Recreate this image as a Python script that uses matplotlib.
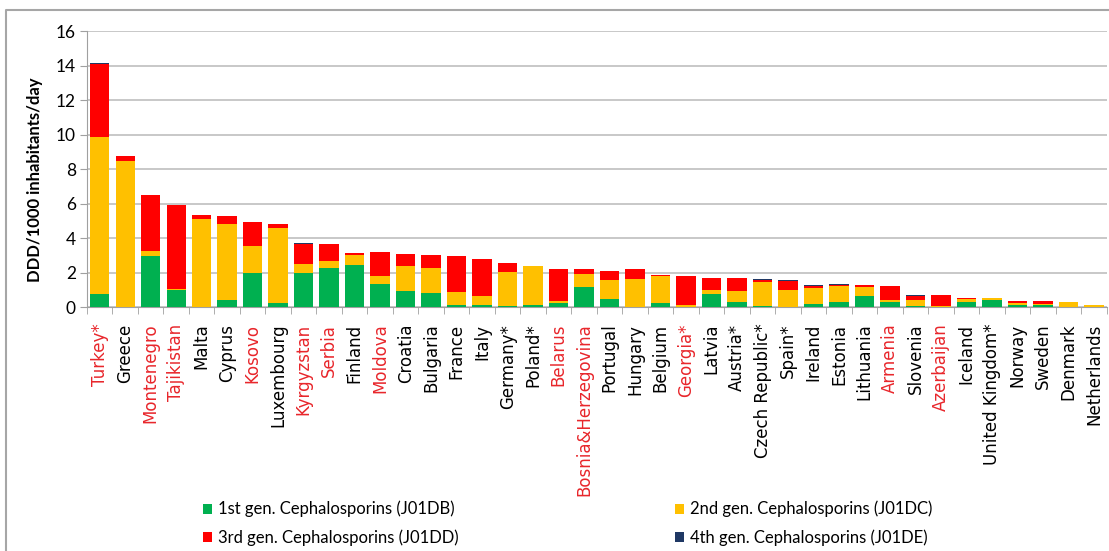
import matplotlib.pyplot as plt
import numpy as np
from matplotlib.lines import Line2D

countries = ["Turkey*", "Greece", "Montenegro", "Tajikistan", "Malta", "Cyprus", "Kosovo",
             "Luxembourg", "Kyrgyzstan", "Serbia", "Finland", "Moldova", "Croatia", "Bulgaria",
             "France", "Italy", "Germany*", "Poland*", "Belarus", "Bosnia&Herzegovina",
             "Portugal", "Hungary", "Belgium", "Georgia*", "Latvia", "Austria*",
             "Czech Republic*", "Spain*", "Ireland", "Estonia", "Lithuania", "Armenia",
             "Slovenia", "Azerbaijan", "Iceland", "United Kingdom*", "Norway", "Sweden",
             "Denmark", "Netherlands"]
red_labels = ["Turkey*", "Montenegro", "Tajikistan", "Kosovo", "Kyrgyzstan", "Serbia",
              "Moldova", "Belarus", "Bosnia&Herzegovina", "Georgia*", "Armenia", "Azerbaijan"]

gen1 = [0.77, 0.0, 2.93, 1.00, 0.02, 0.39, 2.00, 0.23, 2.00, 2.26, 2.45, 1.33, 0.95, 0.81,
        0.12, 0.12, 0.06, 0.10, 0.23, 1.16, 0.46, 0.02, 0.23, 0.0, 0.77, 0.27,
        0.06, 0.02, 0.17, 0.27, 0.66, 0.31, 0.06, 0.0, 0.31, 0.43, 0.12, 0.10, 0.02, 0.0]
gen2 = [9.11, 8.46, 0.29, 0.04, 5.08, 4.42, 1.55, 4.35, 0.49, 0.42, 0.58, 0.49, 1.45, 1.45,
        0.77, 0.50, 1.99, 2.30, 0.14, 0.73, 1.11, 1.60, 1.55, 0.10, 0.22, 0.68,
        1.37, 0.95, 0.95, 0.95, 0.48, 0.10, 0.35, 0.06, 0.15, 0.09, 0.09, 0.09, 0.25, 0.10]
gen3 = [4.23, 0.28, 3.29, 4.85, 0.25, 0.48, 1.39, 0.21, 1.18, 0.95, 0.12, 1.37, 0.67, 0.73,
        2.05, 2.18, 0.52, 0.0, 1.85, 0.33, 0.50, 0.56, 0.08, 1.68, 0.69, 0.73,
        0.14, 0.56, 0.12, 0.07, 0.13, 0.79, 0.25, 0.65, 0.07, 0.0, 0.14, 0.16, 0.03, 0.04]
gen4 = [0.02, 0.02, 0.01, 0.04, 0.0, 0.0, 0.01, 0.02, 0.02, 0.01, 0.01, 0.01, 0.02, 0.01,
        0.01, 0.01, 0.01, 0.0, 0.01, 0.01, 0.01, 0.01, 0.02, 0.01, 0.01, 0.01,
        0.03, 0.01, 0.01, 0.02, 0.01, 0.01, 0.02, 0.01, 0.0, 0.0, 0.02, 0.02, 0.01, 0.0]

series = [("1st gen. Cephalosporins (J01DB)", gen1, "#00B050"),
          ("2nd gen. Cephalosporins (J01DC)", gen2, "#FFC000"),
          ("3rd gen. Cephalosporins (J01DD)", gen3, "#FF0000"),
          ("4th gen. Cephalosporins (J01DE)", gen4, "#1F3864")]

fig = plt.figure(figsize=(11.09, 5.51), dpi=100)
ax = fig.add_axes([0.0784, 0.4428, 0.9197, 0.5009])

x = np.arange(len(countries))
bottom = np.zeros(len(countries))
handles = []
for name, vals, col in series:
    vals = np.array(vals)
    h = ax.bar(x, vals, 0.76, bottom=bottom, color=col, label=name, zorder=3)
    handles.append(h)
    bottom += vals

ax.set_xlim(-0.5, len(countries) - 0.5)
ax.set_ylim(0, 16)
ax.set_yticks(range(0, 17, 2))
ax.yaxis.grid(True, color="#BFBFBF", linewidth=1.2, zorder=0)
ax.tick_params(axis="y", labelsize=12.5, length=5, color="#A0A0A0", pad=3)
for lbl in ax.get_yticklabels():
    lbl.set_family("Lato")
ax.set_ylabel("DDD/1000 inhabitants/day", fontsize=12, fontweight="bold", family="Lato")
ax.yaxis.set_label_coords(-0.043, 0.46)

ax.set_xticks(x)
ax.set_xticklabels(countries, rotation=90, fontsize=12)
ax.tick_params(axis="x", length=0, pad=12)
for lbl in ax.get_xticklabels():
    if lbl.get_text() in red_labels:
        lbl.set_color("#E8262B")
ax.set_xticks(np.arange(-0.5, len(countries), 1), minor=True)
ax.tick_params(axis="x", which="minor", length=5, color="#A0A0A0")

for s in ["top", "right"]:
    ax.spines[s].set_visible(False)
ax.spines["left"].set_color("#A0A0A0")
ax.spines["bottom"].set_color("#A0A0A0")

fig.legend(handles=[handles[0], handles[2], handles[1], handles[3]],
           labels=[series[0][0], series[2][0], series[1][0], series[3][0]],
           loc="upper left", bbox_to_anchor=(0.183, 0.091), ncol=2, frameon=False,
           borderpad=0, borderaxespad=0,
           prop={"family": "Lato", "size": 12}, handlelength=0.55, handleheight=0.55,
           handletextpad=0.35, columnspacing=13, labelspacing=0.7)

# outer chart frame (left and top edges visible)
fig.lines.append(Line2D([0.0054, 0.0054, 1.0], [0.0, 0.982, 0.982], transform=fig.transFigure,
                        color="#A6A6A6", linewidth=1.5))

fig.savefig("out.png", dpi=100)
